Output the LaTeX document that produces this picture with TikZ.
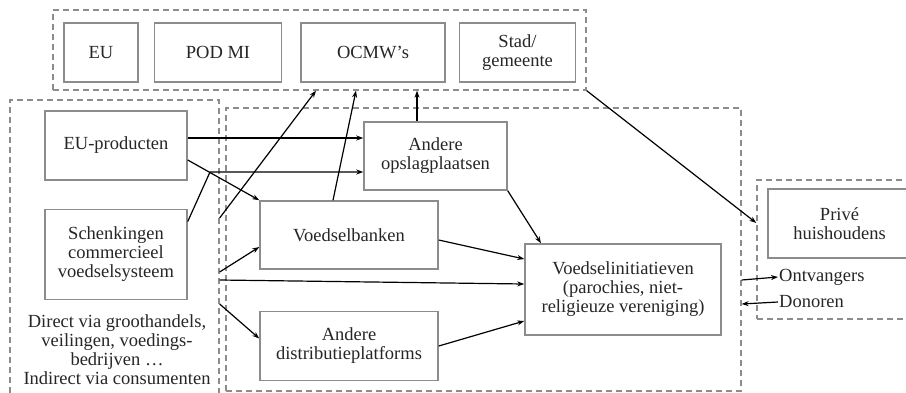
\documentclass[tikz,border=0pt]{standalone}
\usepackage{fontspec}
\setmainfont{Liberation Serif}
\usetikzlibrary{positioning,arrows.meta}

\definecolor{boxgray}{HTML}{8C8C8C}
\definecolor{inkgray}{HTML}{262626}

\begin{document}
\begin{tikzpicture}[x=1pt,y=-1pt,>={Stealth[length=7pt,width=5pt]},
    font=\fontsize{18.5}{19}\selectfont, text=inkgray,
    box/.style={draw=boxgray,line width=1.5pt,align=center,inner sep=2pt},
    grp/.style={draw=boxgray,line width=1.3pt,dash pattern=on 6pt off 4pt},
    flow/.style={->,line width=1.2pt,black}]
  \useasboundingbox (0,0) rectangle (906,392);

  % groepen
  \node[grp,minimum width=533pt,minimum height=80pt] (top) at (319.5,50) {};
  \node[grp,minimum width=209pt,minimum height=295pt] (lft) at (114.5,247.5) {};
  \node[grp,minimum width=515pt,minimum height=283pt] (mid) at (483.5,249.5) {};
  \node[grp,minimum width=158pt,minimum height=139pt] (rgt) at (836,249.5) {};

  % overheden
  \node[box,minimum width=74pt,minimum height=59pt] (eu) at (101,52.5) {EU};
  \node[box,minimum width=127pt,minimum height=59pt] (pod) [right=15pt of eu] {POD MI};
  \node[box,minimum width=144pt,minimum height=59pt] (ocmw) [right=18pt of pod] {OCMW's};
  \node[box,minimum width=116pt,minimum height=59pt] (stad) [right=13pt of ocmw] {Stad/\\gemeente};

  % bronnen
  \node[box,minimum width=142pt,minimum height=69pt] (eup) at (116,145.5) {EU-producten};
  \node[box,minimum width=142pt,minimum height=90pt] (schenk) [below=28pt of eup] {Schenkingen\\commercieel\\voedselsysteem};
  \node[align=center] (via) at (117,350) {Direct via groothandels,\\veilingen, voedings-\\bedrijven \dots\\Indirect via consumenten};

  % verdeling
  \node[box,minimum width=143pt,minimum height=68pt] (ao) at (435.5,156) {Andere\\opslagplaatsen};
  \node[box,minimum width=178pt,minimum height=68pt] (vb) at (349,235) {Voedselbanken};
  \node[box,minimum width=178pt,minimum height=69pt] (ad) [below=41pt of vb] {Andere\\distributieplatforms};
  \node[box,minimum width=196pt,minimum height=91pt] (vi) at (623,289.5) {Voedselinitiatieven\\(parochies, niet-\\religieuze vereniging)};

  % huishoudens
  \node[box,minimum width=143pt,minimum height=69pt] (prive) at (839.5,223.5) {Privé\\huishoudens};
  \node[anchor=west,inner sep=1pt] (ont) at (778,277) {Ontvangers};
  \node[anchor=west,inner sep=1pt] (don) at (778,302) {Donoren};

  \coordinate (k1) at (210,172);

  \draw[flow] ([yshift=33pt]schenk.east) -- (k1) -- (ao.west |- k1);

  \path[flow]
    ([yshift=7.5pt]eup.east) edge ([yshift=18pt]ao.west)
    ([yshift=-14.5pt]eup.east) edge (vb.north west)
    ([yshift=29.5pt]lft.east) edge ([xshift=-3.5pt]top.south)
    ([xshift=-16pt]vb.north) edge ([xshift=36.5pt]top.south)
    ([xshift=-18.5pt]ao.north) edge ([xshift=-18.5pt]ao.north |- top.south)
    (top.south east) edge ([yshift=26.5pt]rgt.west)
    ([yshift=-24.5pt]lft.east) edge ([yshift=-12pt]vb.west)
    ([yshift=-32.5pt]lft.east) edge ([yshift=5.5pt]vi.west)
    ([yshift=-56.5pt]lft.east) edge ([yshift=7.5pt]ad.west)
    ([yshift=-5pt]vb.east) edge ([yshift=30.5pt]vi.west)
    (ad.east) edge ([yshift=-31.5pt]vi.west)
    (ao.south east) edge ([xshift=-82pt]vi.north)
    ([yshift=-30.5pt]mid.east) edge (ont.west)
    (don.west) edge ([yshift=-54.5pt]mid.east);
\end{tikzpicture}
\end{document}
